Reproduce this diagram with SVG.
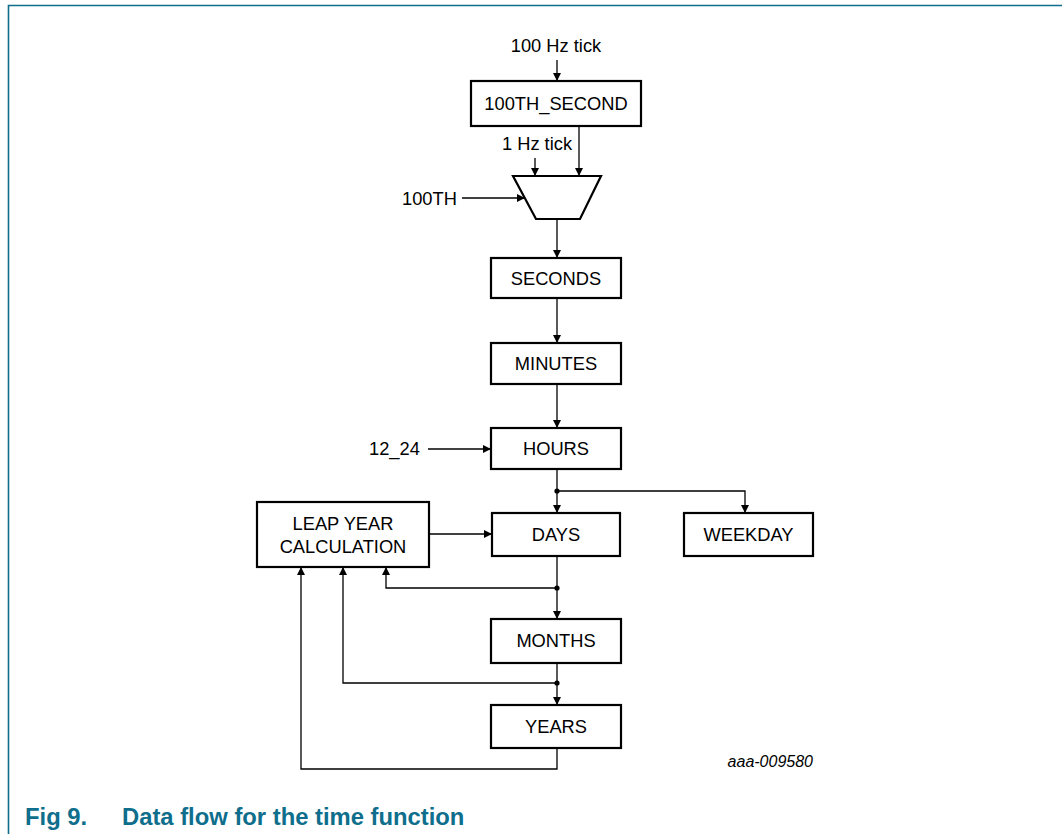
<svg xmlns="http://www.w3.org/2000/svg" width="1062" height="834" viewBox="0 0 1062 834">
<style>
.box{fill:#fff;stroke:#000;stroke-width:2.2}
.lbl{font-family:"Liberation Sans",Arial,sans-serif;font-size:18.3px;fill:#000;text-anchor:middle}
.in{font-family:"Liberation Sans",Arial,sans-serif;font-size:18.3px;fill:#000}
.c{fill:none;stroke:#000;stroke-width:1.3}
.cap{font-family:"Liberation Sans",Arial,sans-serif;font-size:23.8px;font-weight:bold;fill:#0e6e8c}
</style>
<defs>
<marker id="ah" markerWidth="9" markerHeight="9" refX="8" refY="4" orient="auto" markerUnits="userSpaceOnUse">
<path d="M0,0 L8,4 L0,8 Z" fill="#000"/>
</marker>
</defs>
<rect width="1062" height="834" fill="#fff"/>
<path d="M8.5,834 V5.5 H1062" fill="none" stroke="#0e6e8c" stroke-width="1.6"/>

<g id="in-100hz"><text class="lbl" x="556" y="52">100 Hz tick</text></g>
<g id="n-100th-second"><rect class="box" x="471" y="81" width="170" height="45"/><text class="lbl" x="556" y="110">100TH_SECOND</text></g>
<g id="in-1hz"><text class="lbl" x="537" y="150">1 Hz tick</text></g>
<g id="in-100th"><text class="in" x="402" y="205">100TH</text></g>
<g id="n-mux"><path class="box" d="M513,176 H601 L580,219 H536 Z"/></g>
<g id="n-seconds"><rect class="box" x="491" y="258" width="130" height="40"/><text class="lbl" x="556" y="284.5">SECONDS</text></g>
<g id="n-minutes"><rect class="box" x="491" y="343" width="130" height="41"/><text class="lbl" x="556" y="370">MINUTES</text></g>
<g id="in-12-24"><text class="in" x="369" y="455">12_24</text></g>
<g id="n-hours"><rect class="box" x="491" y="428" width="130" height="41"/><text class="lbl" x="556" y="455">HOURS</text></g>
<g id="n-days"><rect class="box" x="492" y="513" width="128" height="43"/><text class="lbl" x="556" y="541">DAYS</text></g>
<g id="n-weekday"><rect class="box" x="684" y="513" width="129" height="43"/><text class="lbl" x="748.5" y="541">WEEKDAY</text></g>
<g id="n-leap"><rect class="box" x="257" y="502" width="172" height="65"/><text class="lbl" x="343" y="530">LEAP YEAR</text><text class="lbl" x="343" y="553">CALCULATION</text></g>
<g id="n-months"><rect class="box" x="491" y="619" width="130" height="44"/><text class="lbl" x="556" y="647">MONTHS</text></g>
<g id="n-years"><rect class="box" x="491" y="705" width="130" height="43"/><text class="lbl" x="556" y="733">YEARS</text></g>

<g id="connectors">
<path class="c" d="M557,60 V81" marker-end="url(#ah)"/>
<path class="c" d="M535,158 V176" marker-end="url(#ah)"/>
<path class="c" d="M579,126 V176" marker-end="url(#ah)"/>
<path class="c" d="M462,198 H525" marker-end="url(#ah)"/>
<path class="c" d="M557,219 V258" marker-end="url(#ah)"/>
<path class="c" d="M557,298 V343" marker-end="url(#ah)"/>
<path class="c" d="M557,384 V428" marker-end="url(#ah)"/>
<path class="c" d="M428,449 H491" marker-end="url(#ah)"/>
<path class="c" d="M557,469 V513" marker-end="url(#ah)"/>
<path class="c" d="M557,491 H745 V513" marker-end="url(#ah)"/>
<circle cx="557" cy="491" r="2.6"/>
<path class="c" d="M429,534 H492" marker-end="url(#ah)"/>
<path class="c" d="M557,556 V619" marker-end="url(#ah)"/>
<path class="c" d="M557,588 H386 V567" marker-end="url(#ah)"/>
<circle cx="557" cy="588" r="2.6"/>
<path class="c" d="M557,663 V705" marker-end="url(#ah)"/>
<path class="c" d="M557,683 H343 V567" marker-end="url(#ah)"/>
<circle cx="557" cy="683" r="2.6"/>
<path class="c" d="M557,748 V769 H301 V567" marker-end="url(#ah)"/>
</g>

<text x="813" y="767" text-anchor="end" font-family="Liberation Sans,Arial,sans-serif" font-size="16" font-style="italic">aaa-009580</text>
<text class="cap" x="25" y="825">Fig 9.</text>
<text class="cap" x="122" y="825">Data flow for the time function</text>
</svg>
